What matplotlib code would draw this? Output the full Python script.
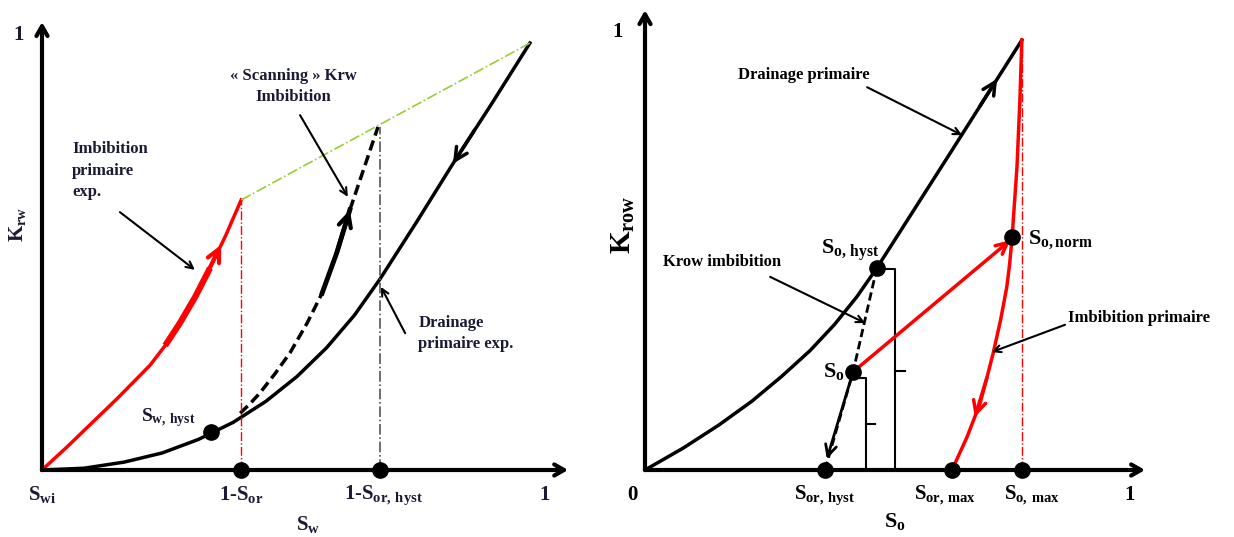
import matplotlib
matplotlib.use('Agg')
import matplotlib.pyplot as plt

plt.rcParams['font.family'] = ['Liberation Serif', 'DejaVu Serif']
plt.rcParams['font.weight'] = 'bold'
plt.rcParams['mathtext.fontset'] = 'custom'
plt.rcParams['mathtext.rm'] = 'Liberation Serif:bold'
plt.rcParams['mathtext.it'] = 'Liberation Serif:bold'
plt.rcParams['mathtext.bf'] = 'Liberation Serif:bold'

# ---- left panel: Krw vs Sw ----
drain_sw = [0, 0.083, 0.163, 0.239, 0.311, 0.380, 0.445, 0.507, 0.566, 0.621,
            0.672, 0.745, 0.817, 0.895, 0.970]
drain_krw = [0, 0.004, 0.018, 0.039, 0.070, 0.109, 0.157, 0.214, 0.280, 0.354,
             0.437, 0.568, 0.701, 0.840, 0.977]
imb_sw = [0, 0.050, 0.095, 0.150, 0.215, 0.245, 0.274, 0.305, 0.334, 0.365, 0.396]
imb_krw = [0, 0.053, 0.103, 0.164, 0.240, 0.285, 0.336, 0.397, 0.462, 0.536, 0.618]
scan_sw = [0.394, 0.413, 0.433, 0.463, 0.493, 0.527, 0.557, 0.586, 0.612, 0.640, 0.668]
scan_krw = [0.130, 0.151, 0.176, 0.220, 0.268, 0.336, 0.405, 0.497, 0.595, 0.690, 0.785]
sw_hyst = (0.336, 0.087)
one_minus_sor = 0.396
one_minus_sor_hyst = 0.672
left_ticks = [0, one_minus_sor, 0.678, 1.0]
left_tick_labels = [r'$S_{wi}$', r'$1\text{-}S_{or}$', r'$1\text{-}S_{or,\,hyst}$', '1']

# ---- right panel: Krow vs So ----
dr_so = [0, 0.079, 0.152, 0.220, 0.282, 0.340, 0.391, 0.437, 0.478, 0.628, 0.777]
dr_krow = [0, 0.050, 0.102, 0.156, 0.213, 0.271, 0.331, 0.394, 0.459, 0.718, 0.977]
ip_so = [0.777, 0.775, 0.773, 0.770, 0.767, 0.762, 0.757, 0.752, 0.746, 0.733,
         0.718, 0.705, 0.691, 0.664, 0.633]
ip_krow = [0.977, 0.910, 0.841, 0.765, 0.689, 0.610, 0.530, 0.470, 0.416, 0.340,
           0.266, 0.210, 0.152, 0.075, 0]
so_hyst = (0.478, 0.459)
so_pt = (0.429, 0.223)
so_norm = (0.757, 0.530)
sor_hyst = 0.371
sor_max = 0.633
so_max = 0.777
right_ticks = [-0.025, 0.371, 0.619, 0.798, 1.0]
right_tick_labels = ['0', r'$S_{or,\,hyst}$', r'$S_{or,\,max}$', r'$S_{o,\,max}$', '1']

W, H = 1234, 537
fig = plt.figure(figsize=(W / 100, H / 100), dpi=100)
axL = fig.add_axes([42 / W, 67 / H, 503 / W, 437 / H])
axR = fig.add_axes([645 / W, 67 / H, 485 / W, 440 / H])
for ax in (axL, axR):
    ax.set_xlim(0, 1)
    ax.set_ylim(0, 1)
    ax.axis('off')

navy = '#1a1a33'


def arrow(ax, p0, p1, lw=1.5, color='black', head='->,head_length=0.5,head_width=0.25'):
    ax.annotate('', xy=p1, xytext=p0,
                arrowprops=dict(arrowstyle=head, lw=lw, color=color,
                                shrinkA=0, shrinkB=0),
                annotation_clip=False)


def dot(ax, x, y):
    ax.plot(x, y, 'o', color='black', ms=11, zorder=6, clip_on=False)


# left axes arrows
arrow(axL, (0, 0), (1.046, 0), lw=3, head='->,head_length=0.7,head_width=0.4')
arrow(axL, (0, 0), (0, 1.025), lw=3, head='->,head_length=0.7,head_width=0.4')

axL.plot(drain_sw, drain_krw, color='black', lw=2.5, clip_on=False, solid_joinstyle='round')
axL.plot(imb_sw, imb_krw, color='red', lw=2.5, clip_on=False, solid_joinstyle='round')
axL.plot(imb_sw[5:9], imb_krw[5:9], color='red', lw=4.5, clip_on=False,
         solid_capstyle='butt')
axL.plot(scan_sw, scan_krw, color='black', lw=2.5, ls=(0, (3, 1.5)), clip_on=False)
axL.plot(scan_sw[6:9], scan_krw[6:9], color='black', lw=3.5, clip_on=False)
axL.plot([imb_sw[-1], drain_sw[-1]], [imb_krw[-1], drain_krw[-1]],
         color='#9acd32', lw=1.2, ls='-.', clip_on=False)
axL.plot([one_minus_sor, one_minus_sor], [0, imb_krw[-1]], color='red', lw=1, ls='-.')
axL.plot([one_minus_sor_hyst, one_minus_sor_hyst], [0, scan_krw[-1]],
         color='#555555', lw=1.2, ls='-.')

# direction arrows on curves
arrow(axL, (0.305, 0.397), (0.356, 0.515), lw=3, color='red',
      head='->,head_length=0.9,head_width=0.45')
arrow(axL, (0.586, 0.497), (0.612, 0.595), lw=3,
      head='->,head_length=0.9,head_width=0.45')
arrow(axL, (0.860, 0.778), (0.817, 0.701), lw=2.5,
      head='->,head_length=0.9,head_width=0.45')

dot(axL, *sw_hyst)
dot(axL, one_minus_sor, 0)
dot(axL, one_minus_sor_hyst, 0)

for x, lab in zip(left_ticks, left_tick_labels):
    axL.text(x, -0.057, lab, ha='center', va='center', fontsize=15, color=navy)
axL.text(0.529, -0.125, r'$S_w$', ha='center', va='center', fontsize=15, color=navy)
axL.text(-0.046, 0.995, '1', ha='center', va='center', fontsize=15, color=navy)
axL.text(-0.048, 0.561, r'$K_{rw}$', ha='center', va='center', fontsize=15,
         rotation=90, color=navy)
axL.text(0.305, 0.119, r'$S_{w,\,hyst}$', ha='right', va='center', fontsize=14, color=navy)

axL.text(0.060, 0.752, 'Imbibition\nprimaire\nexp.', ha='left', va='top',
         fontsize=12, linespacing=1.45, color=navy)
arrow(axL, (0.155, 0.590), (0.304, 0.458))
axL.text(0.500, 0.878, '« Scanning » Krw\nImbibition', ha='center', va='center',
         fontsize=12, linespacing=1.45, color=navy)
arrow(axL, (0.513, 0.812), (0.608, 0.625))
axL.text(0.748, 0.313, 'Drainage\nprimaire exp.', ha='left', va='center',
         fontsize=12, linespacing=1.45, color=navy)
arrow(axL, (0.722, 0.313), (0.674, 0.419))

# right axes arrows
arrow(axR, (0, 0), (1.031, 0), lw=3, head='->,head_length=0.7,head_width=0.4')
arrow(axR, (0, 0), (0, 1.045), lw=3, head='->,head_length=0.7,head_width=0.4')

axR.plot(dr_so, dr_krow, color='black', lw=2.5, clip_on=False, solid_joinstyle='round')
axR.plot(ip_so, ip_krow, color='red', lw=2.5, clip_on=False, solid_joinstyle='round')
axR.plot([so_max, so_max], [0, dr_krow[-1]], color='red', lw=1, ls='-.')
axR.plot([so_hyst[0], so_pt[0], sor_hyst], [so_hyst[1], so_pt[1], 0],
         color='black', lw=2, ls=(0, (3, 1.5)))
arrow(axR, so_pt, (sor_hyst + 0.004, 0.025), lw=2,
      head='->,head_length=0.8,head_width=0.4')
arrow(axR, so_pt, (so_norm[0] - 0.004, so_norm[1] - 0.008), lw=2.5, color='red',
      head='->,head_length=0.8,head_width=0.4')
arrow(axR, (0.705, 0.210), (0.680, 0.120), lw=2.5, color='red',
      head='->,head_length=0.9,head_width=0.45')
arrow(axR, (0.690, 0.826), (0.726, 0.889), lw=2.5,
      head='->,head_length=0.9,head_width=0.45')

# braces
axR.plot([0.485, 0.515, 0.515, 0.495], [so_hyst[1] - 0.003, so_hyst[1] - 0.003, 0, 0],
         color='black', lw=1.5)
axR.plot([0.515, 0.536], [0.225, 0.225], color='black', lw=1.5)
axR.plot([0.433, 0.456, 0.456, 0.437], [0.209, 0.209, 0, 0], color='black', lw=1.5)
axR.plot([0.456, 0.474], [0.105, 0.105], color='black', lw=1.5)

for p in (so_hyst, so_pt, so_norm, (sor_hyst, 0), (sor_max, 0), (so_max, 0)):
    dot(axR, *p)

for x, lab in zip(right_ticks, right_tick_labels):
    axR.text(x, -0.057, lab, ha='center', va='center', fontsize=15)
axR.text(0.515, -0.118, r'$S_o$', ha='center', va='center', fontsize=16)
axR.text(-0.056, 0.995, '1', ha='center', va='center', fontsize=15)
axR.text(-0.045, 0.557, r'$K_{row}$', ha='center', va='center', fontsize=21, rotation=90)
axR.text(0.423, 0.500, r'$S_{o,\,hyst}$', ha='center', va='center', fontsize=16)
axR.text(0.412, 0.223, r'$S_o$', ha='right', va='center', fontsize=16)
axR.text(0.790, 0.523, r'$S_{o,norm}$', ha='left', va='center', fontsize=16)

axR.text(0.192, 0.898, 'Drainage primaire', ha='left', va='center', fontsize=12)
arrow(axR, (0.458, 0.870), (0.654, 0.761))
axR.text(0.037, 0.473, 'Krow imbibition', ha='left', va='center', fontsize=12)
arrow(axR, (0.258, 0.439), (0.454, 0.334))
axR.text(0.872, 0.345, 'Imbibition primaire', ha='left', va='center', fontsize=12)
arrow(axR, (0.866, 0.330), (0.715, 0.268))

fig.savefig('out.png', dpi=100)
